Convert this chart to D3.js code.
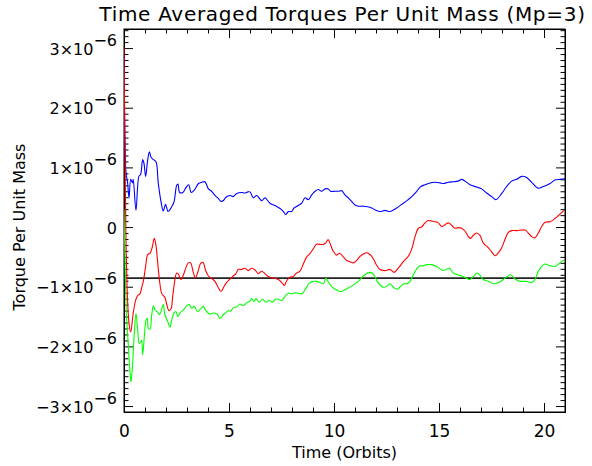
<!DOCTYPE html>
<html>
<head>
<meta charset="utf-8">
<script src="https://cdn.jsdelivr.net/npm/d3@7"></script>
<style>
  html, body { margin: 0; padding: 0; background: #fff; }
  svg { display: block; }
  text { font-family: "DejaVu Sans", "Liberation Sans", sans-serif; fill: #000; }
</style>
</head>
<body>
<svg id="chart" width="592" height="466"></svg>
<script>
// ---- Data (values in units of 1e-6) ----
const blueT = [0,0.04,0.1,0.17,0.24,0.32,0.40,0.44,0.57,0.71,0.79,0.89,0.95,1.03,1.13,1.21,1.29,1.40,1.52,1.63,1.76,1.87,1.98,2.10,2.24,2.38,2.51,2.57,2.65,2.80,2.95,3.08,3.2,3.35,3.55,3.7,3.85,3.92,4.02,4.17,4.33,4.49,4.62,4.75,4.85,5.05,5.2,5.35,5.6,5.75,5.9,6.0,6.16,6.32,6.56,6.71,6.95,7.19,7.43,7.59,7.70,7.83,7.98,8.1,8.30,8.46,8.62,8.78,8.94,9.1,9.25,9.41,9.57,9.73,9.84,10.05,10.2,10.37,10.52,10.68,10.84,11.0,11.16,11.4,11.6,11.79,11.95,12.19,12.43,12.67,12.98,13.22,13.46,13.70,13.94,14.1,14.33,14.57,14.81,15.05,15.21,15.44,15.68,15.9,16.08,16.24,16.48,16.8,17.03,17.27,17.51,17.71,17.98,18.22,18.46,18.7,18.94,19.17,19.41,19.73,19.97,20.29,20.52,20.76,21.0];
const blueV = [2.85,1.6,0.9,0.75,0.49,0.80,0.74,0.80,0.28,0.85,0.88,1.13,1.07,0.85,1.13,1.26,1.17,1.13,1.10,0.74,0.43,0.27,0.38,0.26,0.32,0.42,0.70,0.72,0.58,0.58,0.66,0.71,0.58,0.62,0.73,0.75,0.76,0.72,0.64,0.60,0.53,0.48,0.43,0.45,0.50,0.53,0.51,0.56,0.58,0.57,0.59,0.59,0.49,0.53,0.44,0.49,0.40,0.36,0.31,0.26,0.21,0.26,0.26,0.32,0.36,0.40,0.49,0.46,0.54,0.60,0.63,0.60,0.64,0.64,0.60,0.60,0.60,0.61,0.54,0.49,0.43,0.37,0.35,0.35,0.34,0.32,0.29,0.26,0.28,0.26,0.32,0.38,0.44,0.51,0.60,0.67,0.71,0.74,0.75,0.74,0.73,0.75,0.76,0.77,0.80,0.77,0.71,0.67,0.64,0.57,0.51,0.46,0.56,0.68,0.77,0.80,0.85,0.83,0.75,0.65,0.68,0.73,0.79,0.80,0.81];

const redT = [0,0.04,0.1,0.18,0.25,0.32,0.44,0.56,0.65,0.76,0.84,0.92,1.03,1.13,1.24,1.35,1.44,1.52,1.6,1.71,1.80,1.95,2.03,2.14,2.24,2.32,2.40,2.51,2.59,2.71,2.83,2.95,3.06,3.17,3.30,3.40,3.52,3.65,3.76,3.88,4.02,4.17,4.33,4.47,4.62,4.73,4.86,5.02,5.17,5.33,5.44,5.6,5.76,5.92,6.08,6.24,6.40,6.56,6.71,6.87,7.03,7.19,7.35,7.56,7.63,7.75,7.9,8.06,8.22,8.38,8.54,8.70,8.86,9.02,9.17,9.33,9.49,9.62,9.72,9.84,9.97,10.13,10.27,10.44,10.6,10.76,10.92,11.08,11.24,11.4,11.56,11.71,11.87,12.03,12.19,12.43,12.67,12.86,13.06,13.3,13.54,13.70,13.86,14.02,14.17,14.33,14.49,14.65,14.81,14.97,15.13,15.29,15.44,15.6,15.76,15.92,16.08,16.24,16.4,16.5,16.63,16.79,16.95,17.11,17.27,17.43,17.56,17.67,17.83,17.98,18.14,18.3,18.46,18.7,18.94,19.1,19.25,19.41,19.57,19.73,19.89,20.05,20.29,20.44,20.68,20.95];
const redV = [3.0,1.5,-0.3,-1.3,-1.65,-1.76,-1.44,-1.22,-1.15,-1.12,-1.02,-0.91,-0.66,-0.46,-0.44,-0.33,-0.19,-0.30,-0.58,-0.95,-1.12,-1.18,-1.29,-1.40,-1.37,-1.16,-0.94,-0.77,-0.79,-0.88,-0.80,-0.68,-0.60,-0.60,-0.76,-0.85,-0.75,-0.61,-0.59,-0.72,-0.82,-0.86,-0.91,-1.0,-1.08,-1.02,-0.94,-0.88,-0.83,-0.78,-0.71,-0.71,-0.69,-0.73,-0.69,-0.72,-0.78,-0.74,-0.78,-0.83,-0.85,-0.86,-0.88,-0.95,-0.98,-0.90,-0.84,-0.83,-0.77,-0.74,-0.62,-0.50,-0.44,-0.36,-0.29,-0.29,-0.29,-0.26,-0.21,-0.30,-0.41,-0.47,-0.44,-0.50,-0.56,-0.58,-0.60,-0.56,-0.49,-0.45,-0.43,-0.46,-0.53,-0.64,-0.71,-0.73,-0.71,-0.76,-0.69,-0.58,-0.49,-0.37,-0.16,-0.02,0.0,0.07,0.11,0.10,0.09,0.07,0.01,0.04,0.07,0.03,-0.02,-0.01,-0.02,-0.07,-0.16,-0.19,-0.14,-0.10,-0.14,-0.27,-0.32,-0.38,-0.44,-0.48,-0.43,-0.35,-0.21,-0.09,-0.06,-0.06,-0.05,-0.05,-0.10,-0.16,-0.18,-0.10,0.01,0.08,0.09,0.12,0.19,0.28];

const greenT = [0,0.05,0.12,0.21,0.29,0.33,0.40,0.49,0.57,0.65,0.73,0.79,0.84,0.89,0.97,1.05,1.11,1.16,1.24,1.32,1.40,1.48,1.59,1.68,1.76,1.87,1.95,2.08,2.19,2.27,2.38,2.48,2.56,2.67,2.83,2.98,3.11,3.22,3.35,3.50,3.62,3.78,3.90,4.10,4.25,4.44,4.57,4.73,4.86,4.97,5.08,5.21,5.37,5.52,5.68,5.84,6.0,6.08,6.19,6.29,6.44,6.6,6.76,6.92,7.08,7.20,7.35,7.51,7.67,7.83,7.98,8.14,8.30,8.46,8.62,8.83,9.02,9.17,9.33,9.49,9.62,9.73,9.89,10.05,10.21,10.37,10.52,10.68,10.84,11.05,11.24,11.4,11.56,11.75,11.9,12.06,12.22,12.38,12.52,12.67,12.86,13.02,13.18,13.33,13.48,13.62,13.78,13.94,14.1,14.25,14.41,14.65,14.89,15.13,15.29,15.49,15.68,15.87,16.08,16.32,16.48,16.63,16.83,16.95,17.11,17.35,17.59,17.83,18.06,18.25,18.41,18.62,18.86,19.17,19.41,19.57,19.73,19.89,20.05,20.29,20.52,20.76,20.95];
const greenV = [0.3,-0.6,-1.5,-2.0,-2.45,-2.6,-2.34,-1.78,-1.45,-1.72,-1.95,-1.93,-1.90,-2.14,-1.83,-1.56,-1.53,-1.70,-1.71,-1.47,-1.32,-1.39,-1.42,-1.47,-1.42,-1.30,-1.47,-1.58,-1.68,-1.56,-1.44,-1.42,-1.50,-1.44,-1.39,-1.32,-1.30,-1.36,-1.33,-1.42,-1.38,-1.33,-1.40,-1.46,-1.44,-1.46,-1.53,-1.47,-1.43,-1.40,-1.41,-1.35,-1.34,-1.29,-1.32,-1.27,-1.24,-1.20,-1.25,-1.20,-1.26,-1.21,-1.26,-1.23,-1.26,-1.21,-1.21,-1.23,-1.16,-1.11,-1.12,-1.10,-1.11,-1.12,-1.05,-0.94,-0.91,-0.91,-0.93,-0.95,-0.86,-0.92,-1.0,-1.04,-1.07,-1.08,-1.05,-1.02,-0.99,-0.94,-0.88,-0.82,-0.78,-0.76,-0.80,-0.91,-0.98,-1.01,-0.99,-0.95,-1.02,-1.04,-0.99,-0.95,-0.95,-0.91,-0.80,-0.70,-0.65,-0.65,-0.63,-0.63,-0.66,-0.72,-0.72,-0.69,-0.77,-0.80,-0.82,-0.86,-0.88,-0.83,-0.77,-0.81,-0.88,-0.91,-0.95,-0.93,-0.88,-0.83,-0.80,-0.87,-0.91,-0.91,-0.93,-0.88,-0.74,-0.66,-0.62,-0.65,-0.66,-0.60,-0.55];

const refLevel = -0.856;
const yMajorTicks = [-3, -2, -1, 0, 1, 2, 3];
const xMajorTicks = [0, 5, 10, 15, 20];
const titleText = "Time Averaged Torques Per Unit Mass (Mp=3)";
const xTitle = "Time (Orbits)";
const yTitle = "Torque Per Unit Mass";

// ---- Layout ----
const L = 124, R = 565, T = 29, B = 412;
const svg = d3.select("#chart");
const x = d3.scaleLinear().domain([0, 21]).range([L, R]);
const y = d3.scaleLinear().domain([-3.1, 3.32]).range([B, T]);

const xMinor = d3.range(0, 22, 1).filter(v => v % 5 !== 0);
const yMinor = d3.range(-31, 34, 1).filter(v => v % 10 !== 0).map(v => v / 10);

function styleAxis(g) {
  g.selectAll("path").attr("stroke", "#000").attr("stroke-width", 1);
  g.selectAll("line").attr("stroke", "#000").attr("stroke-width", 1);
}

// bottom
svg.append("g").attr("transform", `translate(0,${B})`)
  .call(d3.axisBottom(x).tickValues(xMajorTicks).tickSize(-9).tickSizeOuter(0).tickPadding(13).tickFormat(d3.format("d")))
  .call(styleAxis)
  .call(g => g.selectAll("text").attr("font-size", 17).attr("font-family", "DejaVu Sans"));
svg.append("g").attr("transform", `translate(0,${B})`)
  .call(d3.axisBottom(x).tickValues(xMinor).tickSize(-4.5).tickSizeOuter(0).tickFormat(""))
  .call(styleAxis);
// top
svg.append("g").attr("transform", `translate(0,${T})`)
  .call(d3.axisTop(x).tickValues(xMajorTicks).tickSize(-9).tickSizeOuter(0).tickFormat(""))
  .call(styleAxis);
svg.append("g").attr("transform", `translate(0,${T})`)
  .call(d3.axisTop(x).tickValues(xMinor).tickSize(-4.5).tickSizeOuter(0).tickFormat(""))
  .call(styleAxis);
// left
const leftAx = svg.append("g").attr("transform", `translate(${L},0)`)
  .call(d3.axisLeft(y).tickValues(yMajorTicks).tickSize(-9).tickSizeOuter(0).tickPadding(7).tickFormat(""))
  .call(styleAxis);
svg.append("g").attr("transform", `translate(${L},0)`)
  .call(d3.axisLeft(y).tickValues(yMinor).tickSize(-4.5).tickSizeOuter(0).tickFormat(""))
  .call(styleAxis);
// right
svg.append("g").attr("transform", `translate(${R},0)`)
  .call(d3.axisRight(y).tickValues(yMajorTicks).tickSize(-9).tickSizeOuter(0).tickFormat(""))
  .call(styleAxis);
svg.append("g").attr("transform", `translate(${R},0)`)
  .call(d3.axisRight(y).tickValues(yMinor).tickSize(-4.5).tickSizeOuter(0).tickFormat(""))
  .call(styleAxis);

// left tick labels with superscripts
leftAx.selectAll(".tick").each(function(d) {
  const t = d3.select(this).select("text");
  t.attr("font-size", 16).attr("text-anchor", "end").attr("x", -7).attr("dy", null);
  t.text(null);
  if (d === 0) {
    t.attr("y", 6).append("tspan").text("0");
  } else {
    t.attr("y", 0);
    const mant = (d < 0 ? "\u2212" : "") + Math.abs(d) + "\u00d710";
    t.append("tspan").attr("dy", 6).text(mant);
    t.append("tspan").attr("dy", -9).attr("font-size", 16).text("\u22126");
  }
});

// frame
svg.append("rect").attr("x", L).attr("y", T).attr("width", R - L).attr("height", B - T)
  .attr("fill", "none").attr("stroke", "#000").attr("stroke-width", 1);

// clip
svg.append("clipPath").attr("id", "clip").append("rect")
  .attr("x", L).attr("y", T).attr("width", R - L).attr("height", B - T);

const plot = svg.append("g").attr("clip-path", "url(#clip)");

// reference line
plot.append("line")
  .attr("x1", x(0)).attr("x2", x(21)).attr("y1", y(refLevel)).attr("y2", y(refLevel))
  .attr("stroke", "#222").attr("stroke-width", 1.6);

const line = d3.line().x(d => x(d[0])).y(d => y(d[1])).curve(d3.curveCatmullRom.alpha(0.5));
const series = [
  { t: blueT, v: blueV, c: "#0000ff" },
  { t: greenT, v: greenV, c: "#00ff00" },
  { t: redT, v: redV, c: "#ff0000" }
];
series.forEach(s => {
  plot.append("path")
    .datum(s.t.map((t, i) => [t, s.v[i]]))
    .attr("d", line)
    .attr("fill", "none")
    .attr("stroke", s.c)
    .attr("stroke-width", 1.1);
});

// titles
svg.append("text").attr("x", (L + R) / 2 - 2).attr("y", 21)
  .attr("text-anchor", "middle").attr("font-size", 20).attr("letter-spacing", 0.7).text(titleText);
svg.append("text").attr("x", (L + R) / 2).attr("y", 458)
  .attr("text-anchor", "middle").attr("font-size", 16).text(xTitle);
svg.append("text").attr("transform", `translate(25,227) rotate(-90)`)
  .attr("text-anchor", "middle").attr("font-size", 16).text(yTitle);
</script>
</body>
</html>
